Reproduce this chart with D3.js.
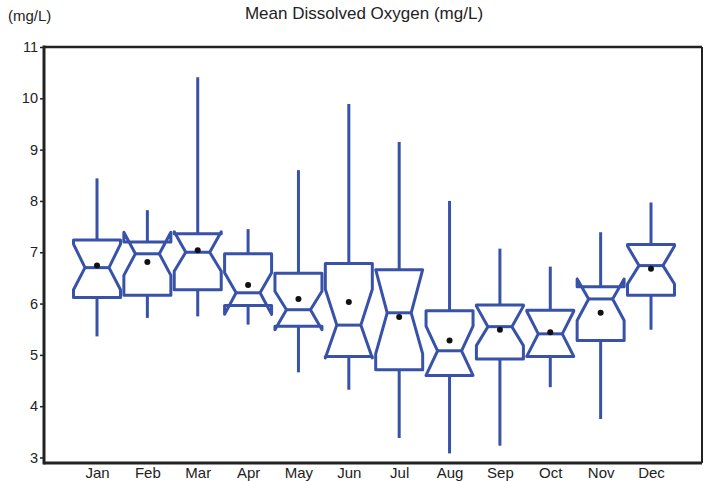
<!DOCTYPE html>
<html>
<head>
<meta charset="utf-8">
<script src="https://cdn.jsdelivr.net/npm/d3@7"></script>
<style>
  body { margin: 0; background: #fff; overflow: hidden; }
  text { font-family: "Liberation Sans", Arial, sans-serif; fill: #222; }
</style>
</head>
<body>
<div id="chart"></div>
<script>
// Monthly dissolved oxygen values (mg/L)
const months = ["Jan", "Feb", "Mar", "Apr", "May", "Jun", "Jul", "Aug", "Sep", "Oct", "Nov", "Dec"];
const whiskerLow  = [5.36, 5.72, 5.75, 5.59, 4.66, 4.32, 3.38, 3.08, 3.23, 4.37, 3.75, 5.49];
const q1          = [6.12, 6.16, 6.27, 5.96, 5.56, 4.97, 4.71, 4.60, 4.92, 4.97, 5.28, 6.16];
const notchLow    = [6.27, 6.55, 6.63, 5.79, 5.49, 4.94, 5.02, 4.60, 5.18, 4.97, 5.67, 6.38];
const median      = [6.70, 6.97, 7.00, 6.21, 5.88, 5.58, 5.82, 5.08, 5.55, 5.41, 6.09, 6.74];
const notchHigh   = [7.16, 7.39, 7.40, 6.60, 6.24, 6.28, 6.66, 5.56, 5.95, 5.85, 6.48, 7.12];
const q3          = [7.24, 7.20, 7.36, 6.97, 6.59, 6.78, 6.66, 5.86, 5.97, 5.87, 6.33, 7.15];
const whiskerHigh = [8.44, 7.82, 10.41, 7.45, 8.60, 9.89, 9.15, 8.00, 7.07, 6.72, 7.39, 7.97];
const means       = [6.74, 6.81, 7.04, 6.36, 6.09, 6.03, 5.74, 5.28, 5.49, 5.44, 5.82, 6.68];
const yTicks = [3, 4, 5, 6, 7, 8, 9, 10, 11];

const data = months.map((m, i) => ({
  month: m,
  lo: whiskerLow[i], q1: q1[i], nLo: notchLow[i], med: median[i],
  nHi: notchHigh[i], q3: q3[i], hi: whiskerHigh[i], mean: means[i]
}));

const W = 703, H = 481;
const frame = { left: 44, right: 702, top: 47, bottom: 463 };
const blue = "#3752a8";

const svg = d3.select("#chart").append("svg")
  .attr("width", W).attr("height", H)
  .style("display", "block");

const x = d3.scalePoint()
  .domain(months)
  .range([frame.left + 53, frame.right - 51]);

const y = d3.scaleLinear()
  .domain([3, 11])
  .range([457.5, 47]);

const boxW = 47;
const indent = 11.5;

// Y axis ticks and labels
svg.append("g")
  .attr("transform", `translate(${frame.left - 1},0)`)
  .call(d3.axisLeft(y).tickValues(yTicks).tickSize(3).tickPadding(2).tickFormat(d3.format("d")))
  .call(g => g.select(".domain").remove())
  .call(g => g.selectAll("line").attr("stroke", "#222").attr("stroke-width", 1.5))
  .call(g => g.selectAll("text").style("font-size", "14.5px").attr("fill", "#222")
    .style("font-family", "Liberation Sans, Arial, sans-serif"));

// X axis labels
svg.append("g")
  .attr("transform", `translate(0,${frame.bottom})`)
  .call(d3.axisBottom(x).tickSize(0).tickPadding(4))
  .call(g => g.select(".domain").remove())
  .call(g => g.selectAll("text").style("font-size", "15px").attr("fill", "#222")
    .style("font-family", "Liberation Sans, Arial, sans-serif"));

// Whiskers
svg.selectAll(".whisker-top")
  .data(data)
  .enter()
  .append("line")
  .attr("x1", d => x(d.month)).attr("x2", d => x(d.month))
  .attr("y1", d => y(d.hi)).attr("y2", d => y(d.q3))
  .attr("stroke", blue).attr("stroke-width", 3);

svg.selectAll(".whisker-bottom")
  .data(data)
  .enter()
  .append("line")
  .attr("x1", d => x(d.month)).attr("x2", d => x(d.month))
  .attr("y1", d => y(d.q1)).attr("y2", d => y(d.lo))
  .attr("stroke", blue).attr("stroke-width", 3);

// Notched boxes
const notchPath = d => {
  const c = x(d.month), l = c - boxW / 2, r = c + boxW / 2;
  const pts = [
    [l, y(d.q1)], [l, y(d.nLo)], [l + indent, y(d.med)], [l, y(d.nHi)], [l, y(d.q3)],
    [r, y(d.q3)], [r, y(d.nHi)], [r - indent, y(d.med)], [r, y(d.nLo)], [r, y(d.q1)]
  ];
  return "M" + pts.map(p => p.join(",")).join("L") + "Z";
};

svg.selectAll(".box")
  .data(data)
  .enter()
  .append("path")
  .attr("class", "box")
  .attr("d", notchPath)
  .attr("fill", "#fff")
  .attr("stroke", blue)
  .attr("stroke-width", 3)
  .attr("stroke-linejoin", "round");

// Median lines
svg.selectAll(".median")
  .data(data)
  .enter()
  .append("line")
  .attr("x1", d => x(d.month) - boxW / 2 + indent)
  .attr("x2", d => x(d.month) + boxW / 2 - indent)
  .attr("y1", d => y(d.med)).attr("y2", d => y(d.med))
  .attr("stroke", blue).attr("stroke-width", 3);

// Means
svg.selectAll(".mean")
  .data(data)
  .enter()
  .append("circle")
  .attr("cx", d => x(d.month))
  .attr("cy", d => y(d.mean))
  .attr("r", 3)
  .attr("fill", "#111");

// Frame
svg.append("line").attr("x1", frame.left).attr("x2", frame.left)
  .attr("y1", frame.top - 1.5).attr("y2", frame.bottom + 1.5)
  .attr("stroke", "#222").attr("stroke-width", 3);
svg.append("line").attr("x1", frame.left).attr("x2", frame.right)
  .attr("y1", frame.bottom).attr("y2", frame.bottom)
  .attr("stroke", "#222").attr("stroke-width", 3);
svg.append("line").attr("x1", frame.left).attr("x2", frame.right)
  .attr("y1", frame.top).attr("y2", frame.top)
  .attr("stroke", "#222").attr("stroke-width", 2.5);
svg.append("line").attr("x1", frame.right).attr("x2", frame.right)
  .attr("y1", frame.top).attr("y2", frame.bottom)
  .attr("stroke", "#222").attr("stroke-width", 2);

// Title and unit
svg.append("text")
  .attr("x", 364).attr("y", 19)
  .attr("text-anchor", "middle")
  .style("font-size", "17px")
  .text("Mean Dissolved Oxygen (mg/L)");

svg.append("text")
  .attr("x", 8).attr("y", 21)
  .style("font-size", "15px")
  .text("(mg/L)");
</script>
</body>
</html>
